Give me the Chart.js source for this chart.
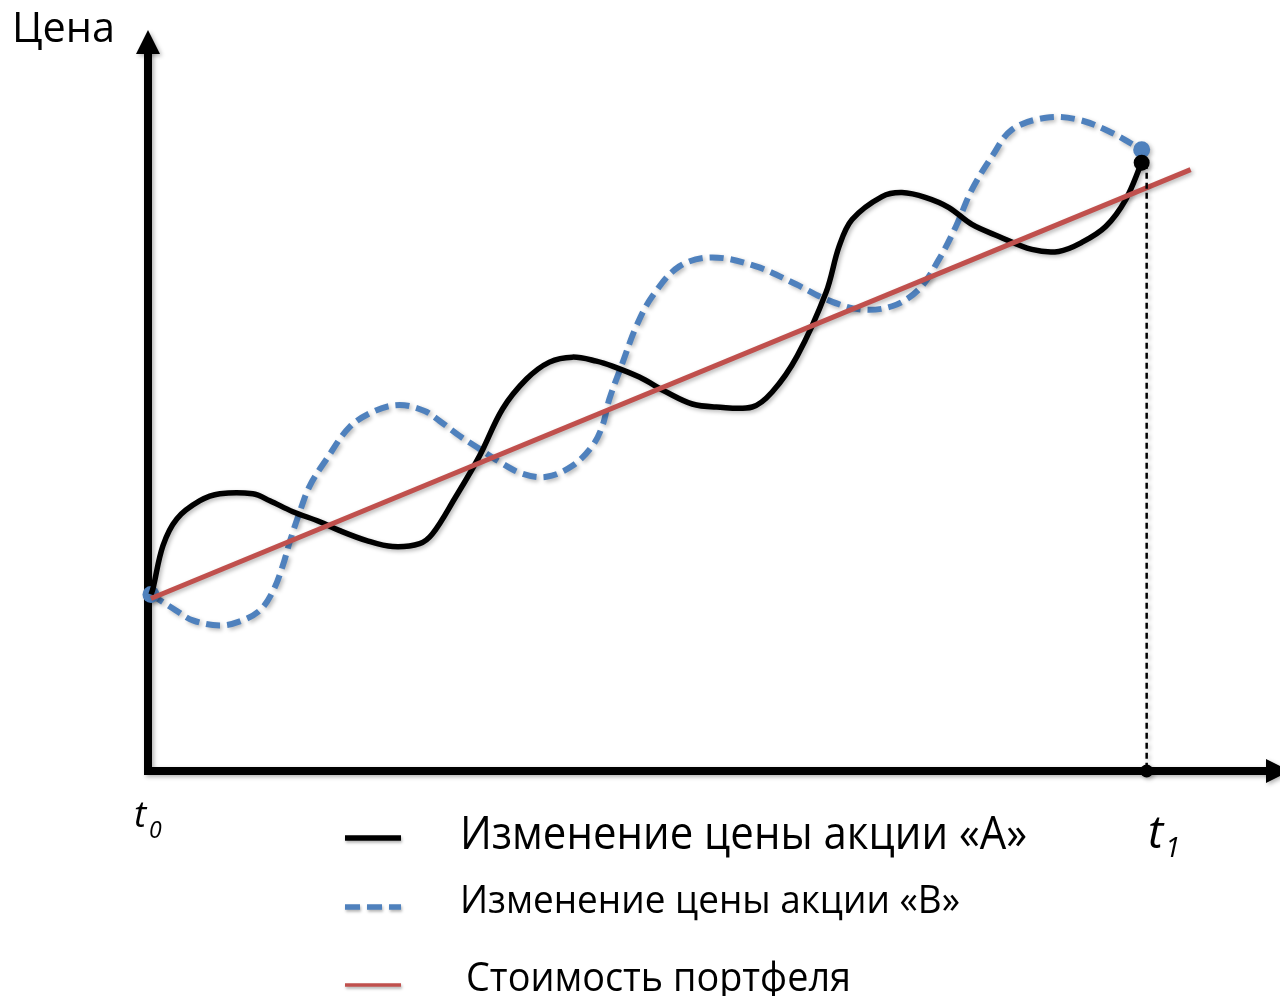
<!DOCTYPE html>
<html>
<head>
<meta charset="utf-8">
<script src="https://cdn.jsdelivr.net/npm/chart.js@4.4.0/dist/chart.umd.min.js"></script>
<style>
  body { margin: 0; background: #fff; }
  #wrap { width: 1280px; height: 996px; }
</style>
</head>
<body>
<div id="wrap"><canvas id="chart" width="1280" height="996"></canvas></div>
<script>
// values (time: t0 = 0, t1 = 10)
var timeA = [0.03, 0.05, 0.15, 0.29, 0.52, 0.72, 1.05, 1.22, 1.45, 1.72, 1.92, 2.19, 2.45, 2.72, 2.85, 3.07, 3.32, 3.55, 3.79, 4.02, 4.25, 4.49, 4.65, 4.92, 5.19, 5.45, 5.69, 6.05, 6.25, 6.50, 6.79, 6.92, 7.05, 7.35, 7.55, 7.79, 8.02, 8.25, 8.52, 8.85, 9.12, 9.35, 9.59, 9.79, 9.95];
var priceA = [17.7, 18.3, 22.6, 25.3, 27.1, 27.8, 27.8, 27.1, 26.0, 25.0, 24.1, 23.1, 22.5, 22.8, 23.8, 27.3, 31.6, 36.3, 39.3, 41.0, 41.5, 41.1, 40.6, 39.5, 38.0, 36.8, 36.5, 36.5, 38.0, 41.6, 48.0, 52.6, 55.3, 57.6, 58.0, 57.5, 56.5, 54.8, 53.6, 52.3, 52.1, 53.0, 54.6, 57.3, 61.0];

var timeB = [0.03, 0.25, 0.45, 0.72, 0.92, 1.12, 1.25, 1.35, 1.42, 1.52, 1.62, 1.79, 2.02, 2.27, 2.52, 2.77, 2.92, 3.12, 3.32, 3.52, 3.75, 3.99, 4.25, 4.45, 4.55, 4.62, 4.74, 4.89, 5.05, 5.32, 5.65, 6.09, 6.49, 6.79, 7.12, 7.45, 7.72, 7.92, 8.09, 8.25, 8.45, 8.65, 8.99, 9.32, 9.65, 9.95];
var priceB = [17.7, 16.3, 15.1, 14.6, 15.0, 16.1, 18.0, 20.6, 23.0, 26.0, 28.6, 31.3, 34.5, 36.1, 36.7, 36.1, 35.1, 33.6, 32.3, 31.0, 29.8, 29.5, 30.6, 32.6, 34.6, 37.3, 40.6, 44.6, 47.6, 50.6, 51.5, 50.6, 48.8, 47.3, 46.3, 46.6, 48.3, 51.3, 54.6, 58.3, 61.6, 64.3, 65.5, 65.3, 64.0, 62.3];

var timePortfolio = [0.03, 10.44];
var pricePortfolio = [17.3, 60.3];

var timeT1 = 10;
var priceAtT1 = 61.0;

var legendLabels = ['Изменение цены акции «А»', 'Изменение цены акции «В»', 'Стоимость портфеля'];

var BLACK = '#000000', BLUE = '#4F81BD', RED = '#C0504D';

function pts(ts, ps) {
    return ts.map(function(t, i) { return { x: t, y: ps[i] }; });
}

function lastOnly(arr, r) {
    return arr.map(function(v, i) { return i === arr.length - 1 ? r : 0; });
}

// text squeezed horizontally to the width it has in the picture
function fitText(ctx, text, x, y, font, width) {
    ctx.save();
    ctx.font = font;
    var w = ctx.measureText(text).width;
    ctx.translate(x, y);
    if (width) ctx.scale(width / w, 1);
    ctx.fillText(text, 0, 0);
    ctx.restore();
}

var overlay = {
    id: 'overlay',
    beforeDatasetsDraw: function(chart) {
        var ctx = chart.ctx;
        var x0 = chart.scales.x.getPixelForValue(0);
        var y0 = chart.scales.y.getPixelForValue(0);
        ctx.save();
        ctx.shadowColor = 'rgba(0,0,0,0.3)';
        ctx.shadowBlur = 4;
        ctx.shadowOffsetX = 2;
        ctx.shadowOffsetY = 2;
        ctx.strokeStyle = BLACK;
        ctx.fillStyle = BLACK;
        ctx.lineWidth = 8;
        ctx.beginPath();
        ctx.moveTo(x0, y0 + 4);
        ctx.lineTo(x0, 50);
        ctx.moveTo(x0 - 4, y0);
        ctx.lineTo(1268, y0);
        ctx.stroke();
        ctx.beginPath();
        ctx.moveTo(x0, 30);
        ctx.lineTo(x0 - 12, 54);
        ctx.lineTo(x0 + 12, 54);
        ctx.closePath();
        ctx.fill();
        ctx.beginPath();
        ctx.moveTo(1290, y0);
        ctx.lineTo(1266, y0 - 12);
        ctx.lineTo(1266, y0 + 12);
        ctx.closePath();
        ctx.fill();
        ctx.restore();

        ctx.save();
        ctx.shadowColor = 'rgba(0,0,0,0.28)';
        ctx.shadowBlur = 4;
        ctx.shadowOffsetX = 2;
        ctx.shadowOffsetY = 2;
    },
    afterDatasetsDraw: function(chart) {
        chart.ctx.restore();
    },
    afterDraw: function(chart) {
        var ctx = chart.ctx;
        ctx.save();
        ctx.fillStyle = BLACK;
        ctx.textBaseline = 'alphabetic';
        fitText(ctx, 'Цена', 12, 42, '42px "Open Sans"', 103);
        fitText(ctx, 't', 134, 827, 'italic 37px "Open Sans"');
        fitText(ctx, '0', 149, 838, 'italic 23px "Open Sans"');
        fitText(ctx, 't', 1148, 848, 'italic 46px "Open Sans"');
        fitText(ctx, '1', 1165, 857, 'italic 28px "Open Sans"');

        fitText(ctx, legendLabels[0], 460, 849, '46px "Open Sans"', 567);
        fitText(ctx, legendLabels[1], 460, 913, '39px "Open Sans"', 500);
        fitText(ctx, legendLabels[2], 466, 991, '40px "Open Sans"', 385);

        ctx.shadowColor = 'rgba(0,0,0,0.3)';
        ctx.shadowBlur = 3;
        ctx.shadowOffsetX = 1;
        ctx.shadowOffsetY = 2;
        ctx.lineWidth = 5.5;
        ctx.strokeStyle = BLACK;
        ctx.beginPath(); ctx.moveTo(345, 838); ctx.lineTo(401, 838); ctx.stroke();
        ctx.strokeStyle = BLUE;
        ctx.setLineDash([15, 7]);
        ctx.beginPath(); ctx.moveTo(345, 907); ctx.lineTo(401, 907); ctx.stroke();
        ctx.setLineDash([]);
        ctx.strokeStyle = RED;
        ctx.lineWidth = 3.5;
        ctx.beginPath(); ctx.moveTo(345, 985); ctx.lineTo(401, 985); ctx.stroke();
        ctx.restore();
    }
};

var ctx = document.getElementById('chart').getContext('2d');
var chart = new Chart(ctx, {
    type: 'line',
    data: {
        datasets: [
            {
                label: 'T1',
                data: [{ x: timeT1, y: priceAtT1 }, { x: timeT1, y: 0 }],
                borderColor: BLACK,
                borderWidth: 2.5,
                borderDash: [6, 4],
                pointRadius: [0, 6.5],
                pointBackgroundColor: BLACK,
                pointBorderWidth: 0,
                tension: 0,
                clip: false
            },
            {
                label: legendLabels[2],
                data: pts(timePortfolio, pricePortfolio),
                borderColor: RED,
                borderWidth: 5,
                pointRadius: 0,
                tension: 0,
                clip: false
            },
            {
                label: legendLabels[0],
                data: pts(timeA, priceA),
                borderColor: BLACK,
                borderWidth: 5.5,
                pointRadius: lastOnly(timeA, 8),
                pointBackgroundColor: BLACK,
                pointBorderWidth: 0,
                tension: 0.35,
                clip: false
            },
            {
                label: legendLabels[1],
                data: pts(timeB, priceB),
                borderColor: BLUE,
                borderWidth: 6,
                borderDash: [14, 7],
                pointRadius: timeB.map(function(v, i) { return (i === 0 || i === timeB.length - 1) ? 8.5 : 0; }),
                pointBackgroundColor: BLUE,
                pointBorderWidth: 0,
                tension: 0.35,
                clip: false
            }
        ]
    },
    options: {
        responsive: false,
        animation: false,
        devicePixelRatio: 1,
        layout: { padding: { left: 148, right: 0, top: 35, bottom: 223 } },
        plugins: {
            legend: { display: false },
            tooltip: { enabled: false }
        },
        scales: {
            x: { type: 'linear', display: false, min: 0, max: 11.25 },
            y: { type: 'linear', display: false, min: -0.2, max: 73.8 }
        }
    },
    plugins: [overlay]
});
</script>
</body>
</html>
